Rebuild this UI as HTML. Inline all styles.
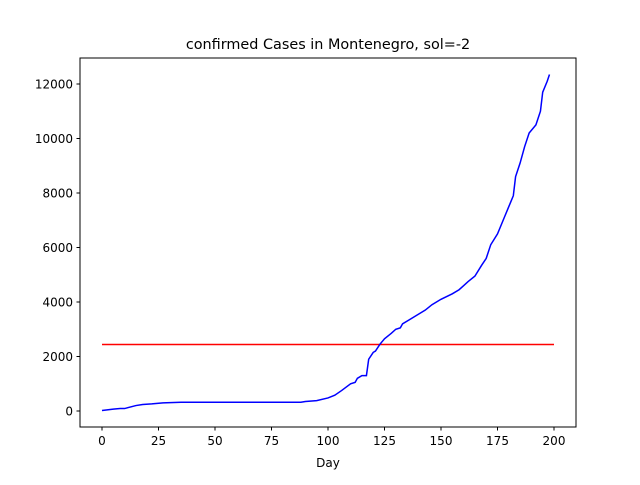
<!DOCTYPE html>
<html><head><meta charset="utf-8"><style>body{margin:0;background:#fff}svg{font-family:"DejaVu Sans","Liberation Sans",sans-serif}</style></head>
<body>
<svg id="chart" width="640" height="480">
<rect width="640" height="480" fill="#fff"/>
<text x="328" y="49" font-size="14.4" text-anchor="middle">confirmed Cases in Montenegro, sol=-2</text>
<text x="328" y="467" font-size="12" text-anchor="middle">Day</text>
<g id="plot"></g>
<rect x="80" y="58" width="496" height="369" fill="none" stroke="#000" stroke-width="1"/>
</svg>
<script>
const days=[0,5,8,10,15,18,22,27,35,88,90,95,100,103,106,110,112,113,115,117,118,120,121,123,125,128,130,132,133,136,138,140,143,146,150,155,158,160,162,165,168,170,172,175,178,181,182,183,185,187,189,192,194,195,197,198];
const cases=[20,70,90,90,200,240,260,300,320,320,350,380,480,580,750,1000,1050,1200,1300,1300,1900,2150,2200,2450,2650,2850,3000,3050,3200,3350,3450,3550,3700,3900,4100,4300,4450,4600,4750,4950,5350,5600,6100,6500,7100,7700,7900,8600,9100,9700,10200,10500,11000,11700,12100,12350];
const threshold=[2440];
const xTicks=[0,25,50,75,100,125,150,175,200];
const yTicks=[0,2000,4000,6000,8000,10000,12000];
const NS='http://www.w3.org/2000/svg';
const X=d=>102+d*2.26, Y=v=>411-v*0.02725;
const g=document.getElementById('plot');
function mk(t,a){const e=document.createElementNS(NS,t);for(const k in a)e.setAttribute(k,a[k]);g.appendChild(e);return e;}
xTicks.forEach(t=>{
 const l=mk('line',{x1:X(t),x2:X(t),y1:427,y2:430.5,stroke:'#000'});
 
 
 const tx=mk('text',{x:X(t),y:445,'font-size':12,'text-anchor':'middle'});tx.textContent=t;
 
 
});
yTicks.forEach(t=>{
 const l=mk('line',{x1:76.5,x2:80,y1:Y(t),y2:Y(t),stroke:'#000'});
 
 
 const tx=mk('text',{x:73,y:Y(t)+4.5,'font-size':12,'text-anchor':'end'});tx.textContent=t;
 
 
});
const r=mk('line',{x1:X(0),x2:X(200),y1:Y(threshold[0]),y2:Y(threshold[0]),stroke:'#ff0000','stroke-width':1.5});


const p=mk('polyline',{points:days.map((d,i)=>X(d)+','+Y(cases[i])).join(' '),fill:'none',stroke:'#0000ff','stroke-width':1.5});


</script>
</body></html>
